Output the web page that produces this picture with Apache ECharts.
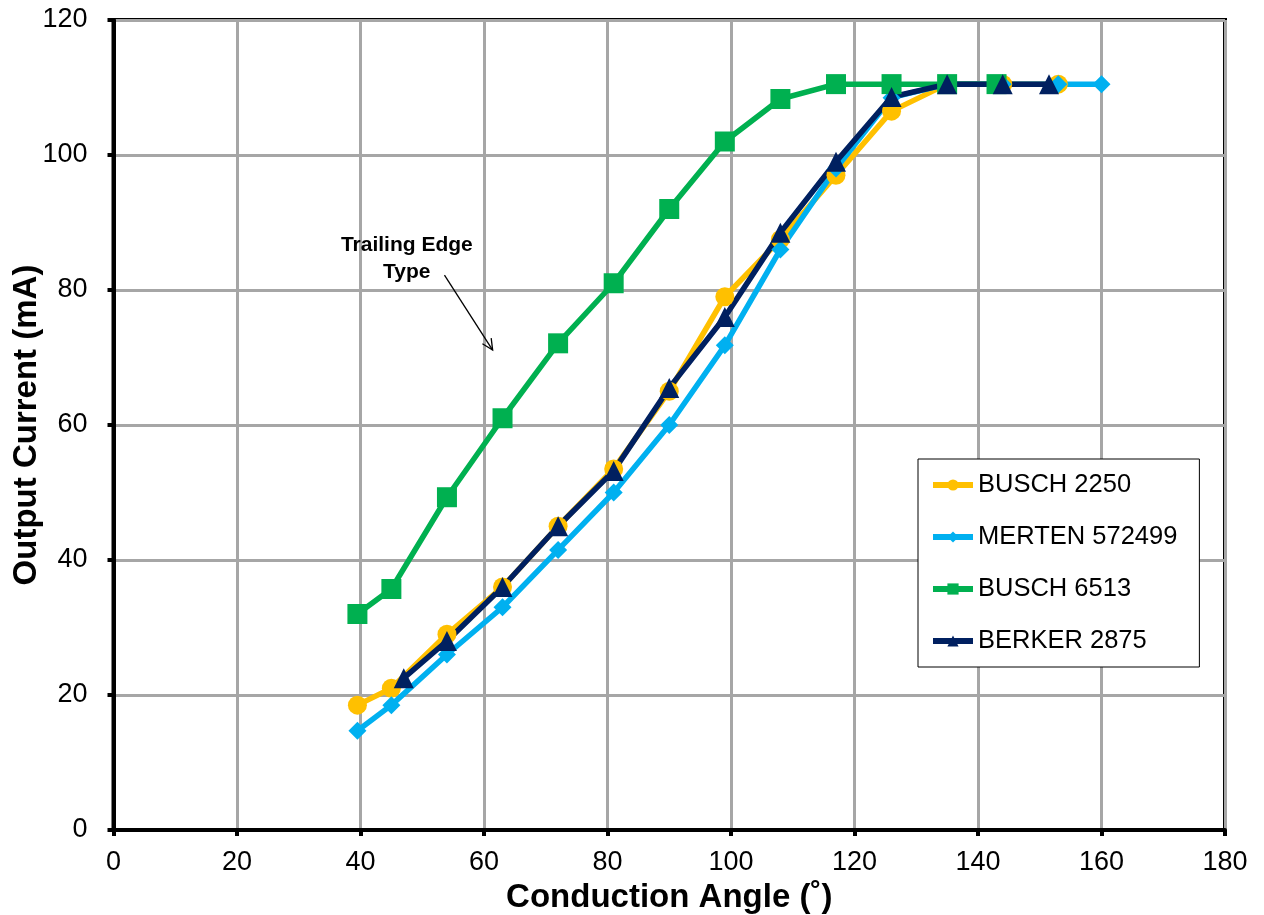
<!DOCTYPE html>
<html><head><meta charset="utf-8">
<script src="https://cdn.jsdelivr.net/npm/echarts@6/dist/echarts.min.js"></script>
<style>html,body{margin:0;padding:0;background:#fff}#c{width:1264px;height:915px}</style>
</head><body><div id="c"></div>
<script>
const busch2250 = [[39.5,18.5],[45,21],[54,29],[63,36],[72,45],[81,53.5],[90,65],[99,79],[108,87.5],[117,97],[126,106.5],[135,110.5],[144,110.5],[153,110.5]];
const merten572499 = [[39.5,14.7],[45,18.5],[54,26],[63,33],[72,41.5],[81,50],[90,60],[99,71.8],[108,86],[117,98],[126,108.5],[135,110.5],[144,110.5],[153,110.5],[160,110.5]];
const busch6513 = [[39.5,32],[45,35.7],[54,49.3],[63,61],[72,72.1],[81,81],[90,92],[99,102],[108,108.3],[117,110.5],[126,110.5],[135,110.5],[143,110.5]];
const berker2875 = [[47,22.5],[54,28],[63,36],[72,45],[81,53.2],[90,65.5],[99,76],[108,88.5],[117,99],[126,108.6],[135,110.5],[144,110.5],[151.5,110.5]];
const seriesNames = ['BUSCH 2250','MERTEN 572499','BUSCH 6513','BERKER 2875'];
const annotationText = 'Trailing Edge\nType';

const chart = echarts.init(document.getElementById('c'));
const font = 'Arial, "Liberation Sans", sans-serif';
function mk(name, data, color, symbol, size) {
  return {name, type:'line', data, color, symbol, symbolSize:size,
    lineStyle:{width:5.5, color}, itemStyle:{color}, showAllSymbol:true, animation:false};
}
chart.setOption({
  animation:false,
  textStyle:{fontFamily:font},
  grid:{left:113.5, right:39, top:20, bottom:85, show:true, borderColor:'#000', borderWidth:4,
    containLabel:false, outerBoundsMode:'none'},
  xAxis:{type:'value', min:0, max:180, interval:20,
    name:'Conduction Angle (˚)', nameLocation:'middle', nameGap:51, nameMoveOverlap:false,
    nameTextStyle:{fontSize:33, fontWeight:'bold', color:'#000', fontFamily:font},
    axisLine:{show:true, onZero:false, lineStyle:{color:'#000', width:4}},
    axisTick:{show:true, length:6, lineStyle:{color:'#000', width:4}},
    axisLabel:{fontSize:27, color:'#000', margin:19, fontFamily:font},
    splitLine:{show:true, lineStyle:{color:'#a6a6a6', width:3}}},
  yAxis:{type:'value', min:0, max:120, interval:20,
    name:'Output Current (mA)', nameLocation:'middle', nameGap:70, nameMoveOverlap:false,
    nameTextStyle:{fontSize:33, fontWeight:'bold', color:'#000', fontFamily:font},
    axisLine:{show:true, lineStyle:{color:'#000', width:4}},
    axisTick:{show:true, length:6, lineStyle:{color:'#000', width:4}},
    axisLabel:{fontSize:27, color:'#000', margin:26, fontFamily:font},
    splitLine:{show:true, lineStyle:{color:'#a6a6a6', width:3}}},
  legend:{orient:'vertical', left:918, top:459,
    padding:[13,22,13,12], itemGap:26, itemWidth:40, itemHeight:14,
    backgroundColor:'#fff', borderColor:'#000', borderWidth:1,
    lineStyle:{width:6},
    textStyle:{fontSize:25.5, color:'#000', fontFamily:font},
    data:seriesNames},
  series:[
    mk(seriesNames[0], busch2250, '#FFC000', 'circle', 19),
    mk(seriesNames[1], merten572499, '#00B0F0', 'diamond', 18),
    mk(seriesNames[2], busch6513, '#00B050', 'rect', 20),
    mk(seriesNames[3], berker2875, '#002060', 'triangle', 20)
  ]
});
const tp = chart.convertToPixel({gridIndex:0}, [47.5, 84.6]);
const a0 = chart.convertToPixel({gridIndex:0}, [53.6, 82.2]);
const a1 = chart.convertToPixel({gridIndex:0}, [61.4, 71.1]);
const ang = Math.atan2(a1[1]-a0[1], a1[0]-a0[0]);
const hl = 12, ha = 0.45;
chart.setOption({graphic:[
  {type:'text', x:tp[0], y:tp[1], z:100, style:{text:annotationText, fontSize:21, fontWeight:'bold', fill:'#000', align:'center', verticalAlign:'middle', lineHeight:27, fontFamily:font}},
  {type:'line', z:100, shape:{x1:a0[0], y1:a0[1], x2:a1[0], y2:a1[1]}, style:{stroke:'#000', lineWidth:1.3}},
  {type:'polyline', z:100, shape:{points:[
    [a1[0]-hl*Math.cos(ang-ha), a1[1]-hl*Math.sin(ang-ha)], a1,
    [a1[0]-hl*Math.cos(ang+ha), a1[1]-hl*Math.sin(ang+ha)]]}, style:{stroke:'#000', lineWidth:1.3, fill:null}}
]});
</script></body></html>
